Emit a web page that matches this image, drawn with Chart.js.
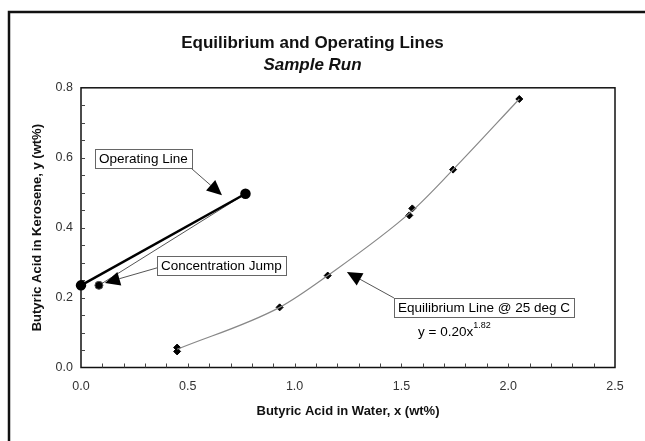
<!DOCTYPE html>
<html>
<head>
<meta charset="utf-8">
<script src="https://cdn.jsdelivr.net/npm/chart.js@4.4.1/dist/chart.umd.min.js"></script>
<style>
    html, body { margin: 0; padding: 0; background: #fff; }
    #wrap { width: 645px; height: 441px; }
</style>
</head>
<body>
<div id="wrap"><canvas id="chart" width="645" height="441"></canvas></div>
<script>
// equilibrium data (x = wt% in water, y = wt% in kerosene)
const eqX = [0.45, 0.45, 0.93, 1.155, 1.537, 1.551, 1.742, 2.052];
const eqY = [0.046, 0.057, 0.172, 0.263, 0.435, 0.455, 0.566, 0.768];
// smooth curve drawn through the equilibrium points
const curveX = [0.45, 0.93, 1.155, 1.545, 1.742, 2.052];
const curveY = [0.052, 0.172, 0.263, 0.445, 0.566, 0.768];
// operating line and concentration jump
const opX = [0.0, 0.77];
const opY = [0.235, 0.497];
const jumpX = [0.084, 0.77];
const jumpY = [0.235, 0.497];

const xTicks = [0.0, 0.5, 1.0, 1.5, 2.0, 2.5];
const yTicks = [0.0, 0.2, 0.4, 0.6, 0.8];

const FONT = '"Liberation Sans", Arial, sans-serif';

function pts(xs, ys) {
    return xs.map((x, i) => ({ x: x, y: ys[i] }));
}

// outer frame, plot box, inward ticks, callouts
const decorations = {
    id: 'decorations',
    beforeDraw(chart) {
        const c = chart.ctx;
        c.save();
        c.fillStyle = '#fff';
        c.fillRect(0, 0, chart.width, chart.height);
        c.strokeStyle = '#111';
        c.lineWidth = 2.5;
        c.beginPath();
        c.moveTo(9, chart.height);
        c.lineTo(9, 12);
        c.lineTo(chart.width, 12);
        c.stroke();
        c.restore();
    },
    beforeDatasetsDraw(chart) {
        const c = chart.ctx;
        const xs = chart.scales.x;
        const ys = chart.scales.y;
        const a = chart.chartArea;
        c.save();
        c.strokeStyle = '#111';
        c.lineWidth = 1.5;
        c.strokeRect(a.left, a.top, a.right - a.left, a.bottom - a.top);

        c.lineWidth = 1;
        c.strokeStyle = '#444';
        c.beginPath();
        for (let v = 0.1; v < 2.5; v += 0.1) {
            const px = Math.round(xs.getPixelForValue(v)) + 0.5;
            c.moveTo(px, a.bottom);
            c.lineTo(px, a.bottom - 4);
        }
        for (let v = 0.05; v < 0.8; v += 0.05) {
            const py = Math.round(ys.getPixelForValue(v)) + 0.5;
            c.moveTo(a.left, py);
            c.lineTo(a.left + 4, py);
        }
        c.stroke();
        c.restore();
    },
    afterDatasetsDraw(chart) {
        const c = chart.ctx;
        const xs = chart.scales.x;
        const ys = chart.scales.y;
        c.save();

        const P = (x, y) => [xs.getPixelForValue(x), ys.getPixelForValue(y)];

        function arrow(from, to) {
            const [x1, y1] = P(from[0], from[1]);
            const [x2, y2] = P(to[0], to[1]);
            const ang = Math.atan2(y2 - y1, x2 - x1);
            const len = 15, half = 7;
            const bx = x2 - len * Math.cos(ang), by = y2 - len * Math.sin(ang);
            c.strokeStyle = '#555';
            c.lineWidth = 1;
            c.beginPath();
            c.moveTo(x1, y1);
            c.lineTo(bx, by);
            c.stroke();
            c.fillStyle = '#000';
            c.beginPath();
            c.moveTo(x2, y2);
            c.lineTo(bx + half * Math.sin(ang), by - half * Math.cos(ang));
            c.lineTo(bx - half * Math.sin(ang), by + half * Math.cos(ang));
            c.closePath();
            c.fill();
        }

        function label(text, x, y) {
            const [px, py] = P(x, y);
            c.font = '13.5px ' + FONT;
            const w = c.measureText(text).width;
            c.fillStyle = '#fff';
            c.fillRect(px, py, w + 8, 19);
            c.strokeStyle = '#666';
            c.lineWidth = 1;
            c.strokeRect(Math.round(px) + 0.5, Math.round(py) + 0.5, Math.round(w + 8), 19);
            c.fillStyle = '#000';
            c.textBaseline = 'middle';
            c.textAlign = 'left';
            c.fillText(text, px + 4, py + 10.5);
        }

        arrow([0.51, 0.573], [0.66, 0.493]);
        label('Operating Line', 0.066, 0.625);
        arrow([0.356, 0.285], [0.112, 0.242]);
        label('Concentration Jump', 0.356, 0.319);
        arrow([1.465, 0.199], [1.245, 0.273]);
        label('Equilibrium Line @ 25 deg C', 1.465, 0.199);

        const [ex, ey] = P(1.578, 0.101);
        c.fillStyle = '#000';
        c.font = '13.5px ' + FONT;
        c.textBaseline = 'middle';
        c.fillText('y = 0.20x', ex, ey);
        const ew = c.measureText('y = 0.20x').width;
        c.font = '9px ' + FONT;
        c.fillText('1.82', ex + ew, ey - 7);
        c.restore();
    }
};

new Chart(document.getElementById('chart').getContext('2d'), {
    type: 'scatter',
    data: {
        datasets: [
            {
                label: 'Equilibrium curve',
                data: pts(curveX, curveY),
                showLine: true,
                borderColor: '#888',
                borderWidth: 1.2,
                pointRadius: 0,
                cubicInterpolationMode: 'monotone'
            },
            {
                label: 'Equilibrium data',
                data: pts(eqX, eqY),
                pointStyle: 'rectRot',
                pointRadius: 3.5,
                backgroundColor: '#000',
                borderColor: '#000'
            },
            {
                label: 'Operating line',
                data: pts(opX, opY),
                showLine: true,
                clip: false,
                borderColor: '#000',
                borderWidth: 2.5,
                pointRadius: 4,
                backgroundColor: '#000'
            },
            {
                label: 'Concentration jump',
                data: pts(jumpX, jumpY),
                showLine: true,
                borderColor: '#555',
                borderWidth: 1,
                pointRadius: 4,
                backgroundColor: '#000'
            }
        ]
    },
    options: {
        responsive: false,
        animation: false,
        layout: { padding: { left: 10, right: 30, top: 0, bottom: 0 } },
        plugins: {
            legend: { display: false },
            tooltip: { enabled: false },
            title: {
                display: true,
                text: 'Equilibrium and Operating Lines',
                color: '#111',
                font: { family: FONT, size: 17, weight: 'bold' },
                padding: { top: 33, bottom: 2 }
            },
            subtitle: {
                display: true,
                text: 'Sample Run',
                color: '#111',
                font: { family: FONT, size: 17, weight: 'bold', style: 'italic' },
                padding: { top: 0, bottom: 12 }
            }
        },
        scales: {
            x: {
                type: 'linear',
                min: 0,
                max: 2.5,
                afterBuildTicks: s => { s.ticks = xTicks.map(v => ({ value: v })); },
                afterFit: s => { s.height = 73.5; },
                ticks: {
                    color: '#333',
                    font: { family: FONT, size: 12.5 },
                    padding: 12,
                    callback: v => v.toFixed(1)
                },
                grid: { display: false, drawTicks: false },
                border: { display: false },
                title: {
                    display: true,
                    text: 'Butyric Acid in Water, x (wt%)',
                    color: '#111',
                    font: { family: FONT, size: 13, weight: 'bold' },
                    padding: { top: 4, bottom: 22 }
                }
            },
            y: {
                type: 'linear',
                min: 0,
                max: 0.8,
                afterBuildTicks: s => { s.ticks = yTicks.map(v => ({ value: v })); },
                afterFit: s => { s.width = 71; },
                ticks: {
                    color: '#333',
                    font: { family: FONT, size: 12.5 },
                    padding: 8,
                    callback: v => v.toFixed(1)
                },
                grid: { display: false, drawTicks: false },
                border: { display: false },
                title: {
                    display: true,
                    text: 'Butyric Acid in Kerosene, y (wt%)',
                    color: '#111',
                    font: { family: FONT, size: 13, weight: 'bold' },
                    padding: { top: 20, bottom: 4 }
                }
            }
        }
    },
    plugins: [decorations]
});
</script>
</body>
</html>
